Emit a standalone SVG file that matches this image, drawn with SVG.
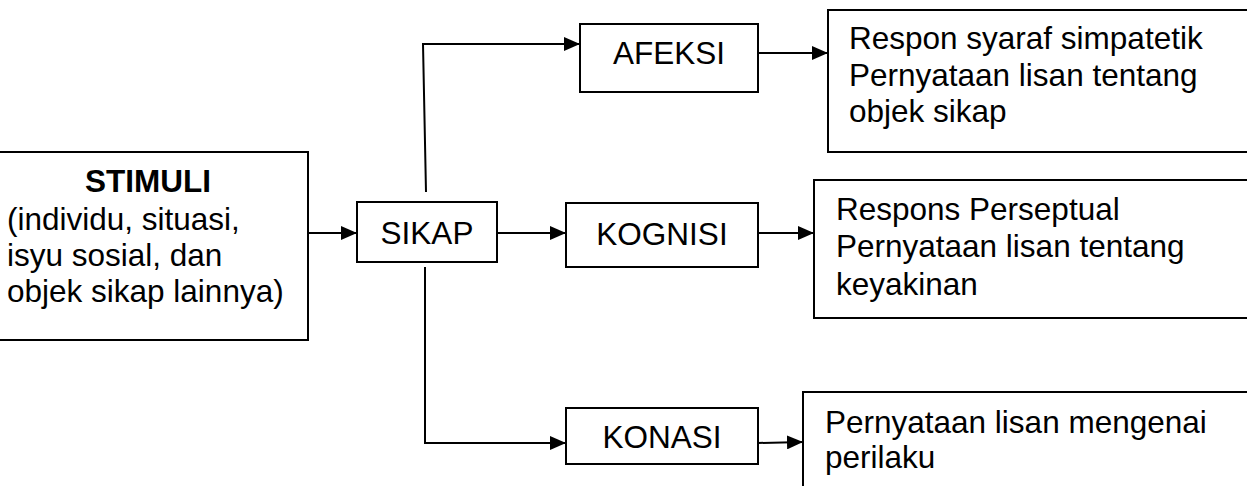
<svg xmlns="http://www.w3.org/2000/svg" width="1247" height="486" viewBox="0 0 1247 486">
<style>
.box{fill:#fff;stroke:#000;stroke-width:2}
.t{font-family:"Liberation Sans",Arial,sans-serif;font-size:31.5px;fill:#000}
.b{font-weight:bold}
.c{fill:none;stroke:#000;stroke-width:2}
</style>
<defs>
<marker id="ah" markerWidth="16" markerHeight="14" refX="16" refY="7" orient="auto" markerUnits="userSpaceOnUse">
<path d="M0,0 L16,7 L0,14 Z" fill="#000"/>
</marker>
</defs>
<rect width="1247" height="486" fill="#fff"/>
<g id="stimuli">
<rect class="box" x="-5" y="152" width="313" height="188"/>
<text class="t b" x="148" y="192" text-anchor="middle">STIMULI</text>
<text class="t" x="7" y="230">(individu, situasi,</text>
<text class="t" x="7" y="266">isyu sosial, dan</text>
<text class="t" x="7" y="302">objek sikap lainnya)</text>
</g>
<g id="sikap">
<rect class="box" x="357" y="202" width="140" height="60"/>
<text class="t" x="427" y="244" text-anchor="middle">SIKAP</text>
</g>
<g id="afeksi">
<rect class="box" x="580" y="24" width="178" height="68"/>
<text class="t" x="669" y="64" text-anchor="middle">AFEKSI</text>
</g>
<g id="kognisi">
<rect class="box" x="566" y="203" width="192" height="64"/>
<text class="t" x="662" y="245" text-anchor="middle">KOGNISI</text>
</g>
<g id="konasi">
<rect class="box" x="566" y="408" width="192" height="56"/>
<text class="t" x="662" y="448" text-anchor="middle">KONASI</text>
</g>
<g id="respon-afeksi">
<rect class="box" x="828" y="10" width="430" height="142"/>
<text class="t" x="849" y="49">Respon syaraf simpatetik</text>
<text class="t" x="849" y="86">Pernyataan lisan tentang</text>
<text class="t" x="849" y="122">objek sikap</text>
</g>
<g id="respon-kognisi">
<rect class="box" x="814" y="180" width="444" height="138"/>
<text class="t" x="836" y="220">Respons Perseptual</text>
<text class="t" x="836" y="257">Pernyataan lisan tentang</text>
<text class="t" x="836" y="295">keyakinan</text>
</g>
<g id="respon-konasi">
<rect class="box" x="803" y="392" width="455" height="110"/>
<text class="t" x="825" y="433">Pernyataan lisan mengenai</text>
<text class="t" x="825" y="468">perilaku</text>
</g>
<g id="connectors">
<line class="c" x1="308" y1="233" x2="357" y2="233" marker-end="url(#ah)"/>
<polyline class="c" points="426,192 423,44 580,44" marker-end="url(#ah)"/>
<line class="c" x1="497" y1="233" x2="566" y2="233" marker-end="url(#ah)"/>
<polyline class="c" points="425,267 425,443 566,443" marker-end="url(#ah)"/>
<line class="c" x1="758" y1="53" x2="828" y2="53" marker-end="url(#ah)"/>
<line class="c" x1="758" y1="233" x2="814" y2="233" marker-end="url(#ah)"/>
<line class="c" x1="758" y1="443" x2="803" y2="442" marker-end="url(#ah)"/>
</g>
</svg>
